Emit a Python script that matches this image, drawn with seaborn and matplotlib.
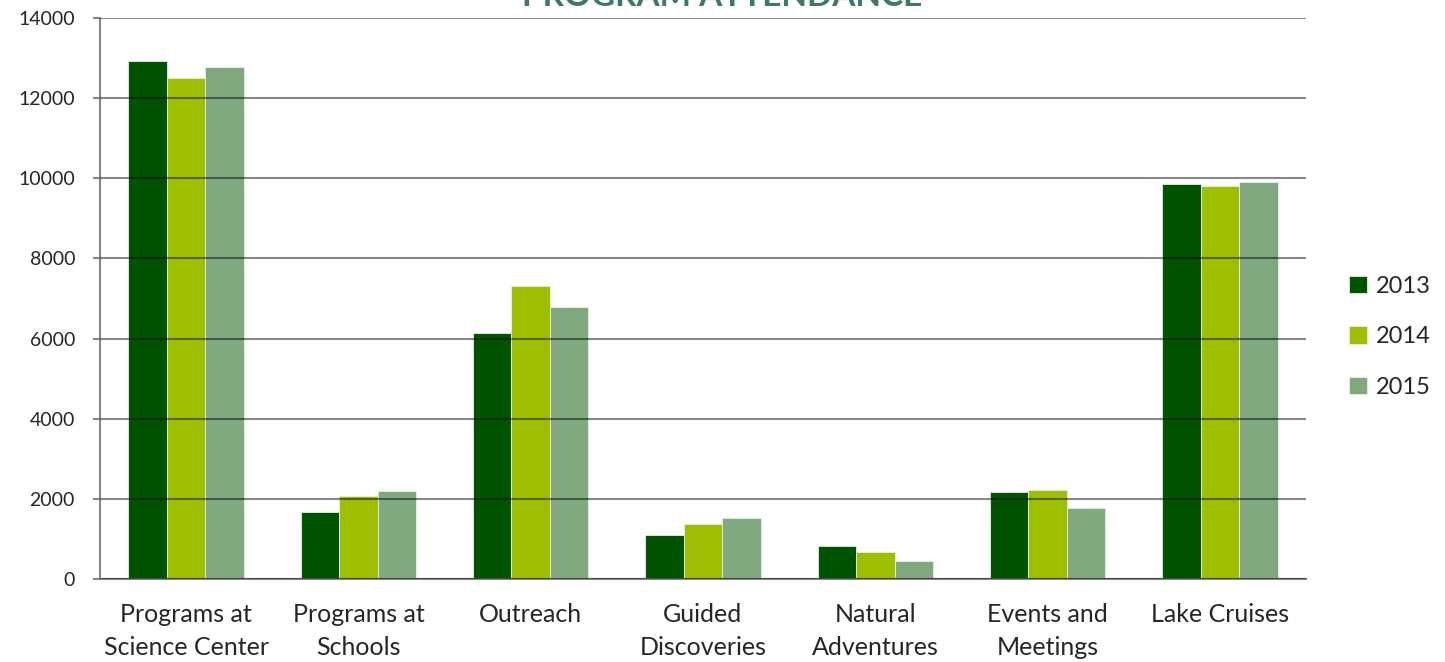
import matplotlib
matplotlib.use("Agg")
import matplotlib.pyplot as plt
import seaborn as sns
import pandas as pd

categories = ["Programs at\nScience Center", "Programs at\nSchools", "Outreach",
              "Guided\nDiscoveries", "Natural\nAdventures", "Events and\nMeetings",
              "Lake Cruises"]
years = ["2013", "2014", "2015"]
values_2013 = [12930, 1660, 6150, 1090, 830, 2180, 9850]
values_2014 = [12500, 2070, 7300, 1370, 670, 2210, 9800]
values_2015 = [12780, 2190, 6790, 1530, 450, 1770, 9900]
colors = ["#005300", "#9ebe00", "#80a980"]

# long format for seaborn
rows = []
for year, vals in zip(years, [values_2013, values_2014, values_2015]):
    for cat, v in zip(categories, vals):
        rows.append({"category": cat, "year": year, "value": v})
df = pd.DataFrame(rows)

sns.set_style("white")
plt.rcParams["font.family"] = ["Lato", "DejaVu Sans"]

fig = plt.figure(figsize=(14.45, 6.62), dpi=100)
ax = fig.add_axes([100 / 1445, 83 / 662, 1206 / 1445, 561 / 662])

sns.barplot(data=df, x="category", y="value", hue="year", palette=colors,
            width=0.67, gap=0, saturation=1, ax=ax, errorbar=None,
            linewidth=0.6, edgecolor="#e8efe8")

ax.set_ylim(0, 14000)
ax.set_xlim(-0.5, len(categories) - 0.5)
ax.set_yticks(range(0, 14001, 2000))
ax.set_yticklabels([str(v) for v in range(0, 14001, 2000)], fontsize=14)
ax.set_xlabel("")
ax.set_ylabel("")
ax.set_xticks(range(len(categories)))
ax.set_xticklabels(categories, fontsize=18, linespacing=1.55)
ax.tick_params(axis="x", which="major", length=0, pad=17)
ax.set_xticks([i - 0.5 for i in range(len(categories) + 1)], minor=True)
ax.tick_params(axis="x", which="minor", length=7, color="#868686", width=1.5)
ax.tick_params(axis="y", length=5, color="#868686", width=1.5, left=True, pad=13)

ax.set_axisbelow(False)
ax.yaxis.grid(True, color="black", alpha=0.47, linewidth=1.5)
ax.xaxis.grid(False)
for side in ["top", "right"]:
    ax.spines[side].set_visible(False)
for side in ["left", "bottom"]:
    ax.spines[side].set_color("#868686")
    ax.spines[side].set_linewidth(1.5)

leg = ax.legend(loc="center left", bbox_to_anchor=(1.018, 0.432), frameon=False,
                fontsize=17, handlelength=0.75, handleheight=0.75,
                labelspacing=1.25, handletextpad=0.4)

fig.text(0.5, 1.006, "PROGRAM ATTENDANCE", ha="center", va="center",
         fontsize=24, fontweight="bold", color="#3e7a5e")

fig.savefig("out.png", dpi=100)
